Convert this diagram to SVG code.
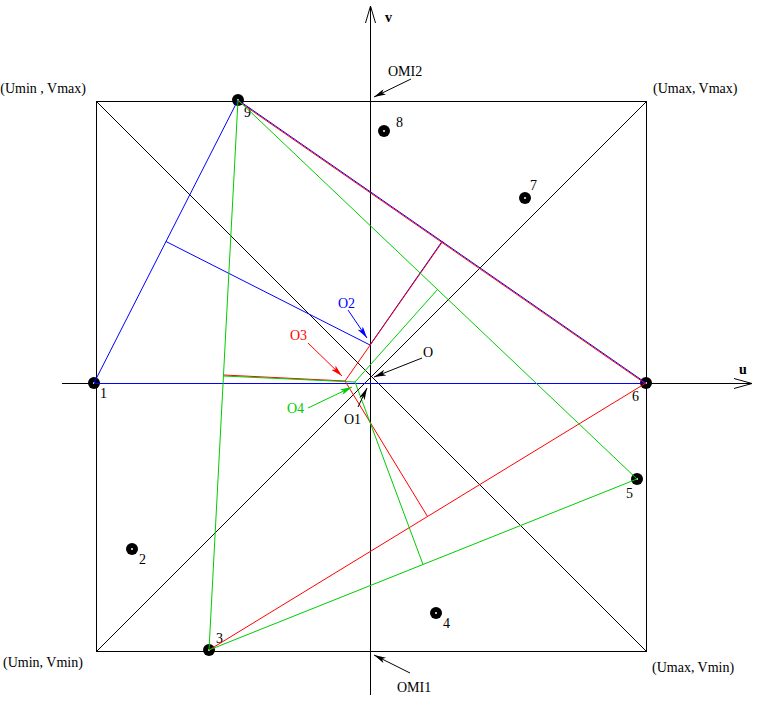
<svg xmlns="http://www.w3.org/2000/svg" width="760" height="708" viewBox="0 0 760 708">
<defs>
<style>
.t{font-family:"Liberation Serif","Times New Roman",serif;font-size:14px;fill:#000}
.b{font-weight:bold}
.k{stroke:#000;stroke-width:1;fill:none}
.bl{stroke:#0000ff;stroke-width:1;fill:none}
.rd{stroke:#ff0000;stroke-width:1;fill:none}
.gr{stroke:#00cc00;stroke-width:1;fill:none}
.pt{fill:#000}
.pc{fill:#fff}
</style>
<marker id="ak" viewBox="0 0 12 6" refX="12" refY="3" markerWidth="12" markerHeight="6" markerUnits="userSpaceOnUse" orient="auto"><path d="M0,0 L12,3 L0,6 L3,3 z" fill="#000"/></marker>
<marker id="ab" viewBox="0 0 12 6" refX="12" refY="3" markerWidth="12" markerHeight="6" markerUnits="userSpaceOnUse" orient="auto"><path d="M0,0 L12,3 L0,6 L3,3 z" fill="#0000ff"/></marker>
<marker id="ar" viewBox="0 0 12 6" refX="12" refY="3" markerWidth="12" markerHeight="6" markerUnits="userSpaceOnUse" orient="auto"><path d="M0,0 L12,3 L0,6 L3,3 z" fill="#ff0000"/></marker>
<marker id="ag" viewBox="0 0 12 6" refX="12" refY="3" markerWidth="12" markerHeight="6" markerUnits="userSpaceOnUse" orient="auto"><path d="M0,0 L12,3 L0,6 L3,3 z" fill="#00cc00"/></marker>
</defs>
<rect width="760" height="708" fill="#fff"/>

<g id="frame">
<rect class="k" x="96.5" y="101.5" width="550" height="550"/>
<line class="k" x1="96.5" y1="101.5" x2="646.5" y2="651.5"/>
<line class="k" x1="646.5" y1="101.5" x2="96.5" y2="651.5"/>
</g>

<g id="axes">
<line class="k" x1="62" y1="383.5" x2="752" y2="383.5"/>
<polyline class="k" points="734,378.5 752,383.5 734,388.5"/>
<line class="k" x1="370.5" y1="6" x2="370.5" y2="695"/>
<polyline class="k" points="365.5,23 370.5,6 375.5,23"/>
<text class="t b" x="385" y="22">v</text>
<text class="t b" x="739" y="374">u</text>
</g>

<g id="corners">
<text class="t" x="86" y="93" text-anchor="end">(Umin , Vmax)</text>
<text class="t" x="653" y="93">(Umax, Vmax)</text>
<text class="t" x="3" y="667">(Umin, Vmin)</text>
<text class="t" x="652" y="672">(Umax, Vmin)</text>
</g>

<g id="p1"><circle class="pt" cx="94" cy="383" r="6"/><circle class="pc" cx="94" cy="383" r="1"/><text class="t" x="100" y="398">1</text></g>
<g id="p2"><circle class="pt" cx="132" cy="549" r="6"/><circle class="pc" cx="132" cy="549" r="1"/><text class="t" x="139" y="564">2</text></g>
<g id="p3"><circle class="pt" cx="209" cy="650" r="6"/><circle class="pc" cx="209" cy="650" r="1"/><text class="t" x="216" y="643">3</text></g>
<g id="p4"><circle class="pt" cx="436" cy="613" r="6"/><circle class="pc" cx="436" cy="613" r="1"/><text class="t" x="443" y="628">4</text></g>
<g id="p5"><circle class="pt" cx="637" cy="479" r="6"/><circle class="pc" cx="637" cy="479" r="1"/><text class="t" x="626" y="498">5</text></g>
<g id="p6"><circle class="pt" cx="646" cy="383" r="6"/><circle class="pc" cx="646" cy="383" r="1"/><text class="t" x="632" y="401">6</text></g>
<g id="p7"><circle class="pt" cx="525" cy="198" r="6"/><circle class="pc" cx="525" cy="198" r="1"/><text class="t" x="530" y="190">7</text></g>
<g id="p8"><circle class="pt" cx="384" cy="131" r="6"/><circle class="pc" cx="384" cy="131" r="1"/><text class="t" x="396" y="127">8</text></g>
<g id="p9"><circle class="pt" cx="238" cy="100" r="6"/><circle class="pc" cx="238" cy="100" r="1"/><text class="t" x="244" y="117">9</text></g>

<g id="connectors">
<g id="red">
<line class="rd" x1="223.5" y1="375" x2="345" y2="381"/>
</g>
<g id="blue">
<line class="bl" x1="94" y1="383.5" x2="646" y2="383.5"/>
<line class="bl" x1="94" y1="383" x2="238" y2="100"/>
<line class="bl" x1="238" y1="100" x2="646" y2="383"/>
<line class="bl" x1="166" y1="241.5" x2="370" y2="345"/>
<line class="bl" x1="442" y1="241.5" x2="370" y2="345"/>
</g>
<g id="red2">
<line class="rd" x1="238" y1="101" x2="646" y2="384"/>
<line class="rd" x1="646" y1="383" x2="209" y2="650"/>
<line class="rd" x1="443" y1="241" x2="345" y2="381"/>
<line class="rd" x1="427.5" y1="516.5" x2="345" y2="381"/>
</g>
<g id="green">
<line class="gr" x1="238" y1="100" x2="637" y2="479"/>
<line class="gr" x1="637" y1="479" x2="209" y2="650"/>
<line class="gr" x1="209" y1="650" x2="238" y2="100"/>
<line class="gr" x1="437.5" y1="289.5" x2="355" y2="382"/>
<line class="gr" x1="423" y1="564.5" x2="355" y2="382"/>
<line class="gr" x1="223.5" y1="376" x2="355" y2="382"/>
</g>
<g id="pointers">
<line class="bl" x1="348" y1="310" x2="367" y2="338" marker-end="url(#ab)"/>
<line class="rd" x1="308" y1="343" x2="342" y2="376" marker-end="url(#ar)"/>
<line class="k" x1="422" y1="358" x2="374" y2="377" marker-end="url(#ak)"/>
<line class="gr" x1="308" y1="408" x2="352" y2="387" marker-end="url(#ag)"/>
<line class="k" x1="358" y1="407" x2="367" y2="388" marker-end="url(#ak)"/>
<line class="k" x1="411" y1="79" x2="374" y2="97" marker-end="url(#ak)"/>
<line class="k" x1="410" y1="673" x2="374" y2="655" marker-end="url(#ak)"/>
</g>
</g>

<g id="labels">
<text class="t" x="338" y="308" style="fill:#0000ff">O2</text>
<text class="t" x="290" y="340" style="fill:#ff0000">O3</text>
<text class="t" x="423" y="357">O</text>
<text class="t" x="287" y="413" style="fill:#00cc00">O4</text>
<text class="t" x="344" y="424">O1</text>
<text class="t" x="388" y="76">OMI2</text>
<text class="t" x="397" y="692">OMI1</text>
</g>
</svg>
